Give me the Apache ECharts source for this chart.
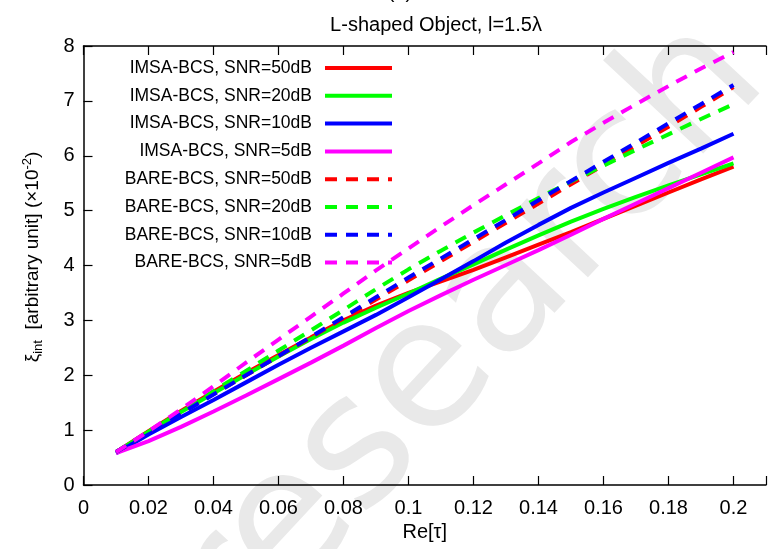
<!DOCTYPE html>
<html>
<head>
<meta charset="utf-8">
<script src="https://cdn.jsdelivr.net/npm/echarts@6/dist/echarts.min.js"></script>
<style>
  html,body{margin:0;padding:0;background:#fff}
  #chart{width:769px;height:549px}
</style>
</head>
<body>
<div id="chart"></div>
<script>
// ---------- data ----------
const tau = [0.01,0.02,0.03,0.04,0.05,0.06,0.07,0.08,0.09,0.10,0.11,0.12,0.13,0.14,0.15,0.16,0.17,0.18,0.19,0.20];

const imsa50 = [0.60,0.98,1.35,1.70,2.04,2.37,2.69,3.00,3.27,3.50,3.71,3.92,4.15,4.38,4.61,4.85,5.09,5.33,5.57,5.80];
const imsa20 = [0.60,0.97,1.33,1.67,2.01,2.34,2.66,2.96,3.23,3.49,3.76,4.02,4.29,4.55,4.80,5.03,5.25,5.46,5.66,5.86];
const imsa10 = [0.58,0.92,1.24,1.55,1.87,2.19,2.50,2.80,3.10,3.42,3.75,4.08,4.42,4.74,5.05,5.33,5.60,5.87,6.13,6.40];
const imsa5  = [0.58,0.80,1.06,1.34,1.63,1.93,2.23,2.54,2.86,3.17,3.46,3.74,4.01,4.28,4.56,4.85,5.13,5.41,5.69,5.97];
const bare50 = [0.60,0.96,1.31,1.66,2.00,2.35,2.69,3.04,3.38,3.73,4.08,4.43,4.78,5.13,5.48,5.83,6.18,6.53,6.89,7.25];
const bare20 = [0.60,0.97,1.34,1.71,2.08,2.45,2.82,3.19,3.57,3.93,4.27,4.60,4.92,5.23,5.53,5.82,6.11,6.39,6.67,6.94];
const bare10 = [0.60,0.95,1.30,1.65,2.00,2.35,2.70,3.06,3.42,3.78,4.13,4.48,4.83,5.19,5.54,5.89,6.24,6.59,6.94,7.29];
const bare5  = [0.60,0.98,1.38,1.80,2.23,2.65,3.07,3.49,3.91,4.31,4.71,5.10,5.48,5.86,6.25,6.60,6.94,7.27,7.59,7.89];

const names = ['IMSA-BCS, SNR=50dB','IMSA-BCS, SNR=20dB','IMSA-BCS, SNR=10dB','IMSA-BCS, SNR=5dB',
               'BARE-BCS, SNR=50dB','BARE-BCS, SNR=20dB','BARE-BCS, SNR=10dB','BARE-BCS, SNR=5dB'];
const values = [imsa50, imsa20, imsa10, imsa5, bare50, bare20, bare10, bare5];
const colors = ['#ff0000','#00ff00','#0000ff','#ff00ff','#ff0000','#00ff00','#0000ff','#ff00ff'];

// ---------- chart ----------
const FONT = 'Liberation Sans, Arial, sans-serif';
const chart = echarts.init(document.getElementById('chart'));

const series = values.map((v,i)=>({
  name: names[i],
  type: 'line',
  symbol: 'none',
  showSymbol: false,
  data: tau.map((t,k)=>[t, v[k]]),
  lineStyle: {color: colors[i], width: 4, type: i < 4 ? 'solid' : [12,9]},
  itemStyle: {color: colors[i]},
  z: 3
}));

// hide the label for the extra 0.21 edge
const xFmt = v => v > 0.2001 ? '' : String(parseFloat(v.toFixed(2)));

const tickStyle = {inside: true, length: 9, lineStyle: {color: '#000', width: 1.2}};
const lineBlack = {show: true, lineStyle: {color: '#000', width: 1.5}};

chart.setOption({
  animation: false,
  backgroundColor: '#fff',
  grid: {left: 83.5, right: -9, top: 46, bottom: 64},
  title: {
    text: 'L-shaped Object, l=1.5λ',
    left: 431, top: 10, textAlign: 'center',
    textStyle: {fontFamily: FONT, fontSize: 20, fontWeight: 'normal', color: '#000'}
  },
  legend: {
    orient: 'vertical',
    align: 'right',
    right: 370,
    top: 54,
    itemWidth: 67,
    itemHeight: 14,
    itemGap: 9.8,
    data: names,
    itemStyle: {opacity: 0},
    lineStyle: {width: 4},
    textStyle: {fontFamily: FONT, fontSize: 17.5, color: '#000', padding: [0,8,0,0]}
  },
  xAxis: [{
    type: 'value', min: 0, max: 0.21, interval: 0.02,
    axisLine: lineBlack,
    axisTick: tickStyle,
    axisLabel: {formatter: xFmt, color: '#000', fontFamily: FONT, fontSize: 20, margin: 13},
    splitLine: {show: false},
    name: 'Re[τ]', nameLocation: 'middle', nameGap: 35,
    nameTextStyle: {fontFamily: FONT, fontSize: 20, color: '#000'}
  },{
    type: 'value', position: 'top', min: 0, max: 0.21, interval: 0.02,
    axisLine: lineBlack,
    axisTick: tickStyle,
    axisLabel: {show: false},
    splitLine: {show: false}
  }],
  yAxis: [{
    type: 'value', min: 0, max: 8, interval: 1,
    axisLine: lineBlack,
    axisTick: tickStyle,
    axisLabel: {color: '#000', fontFamily: FONT, fontSize: 20, margin: 9},
    splitLine: {show: false}
  }],
  graphic: [{
    type: 'text', z: 0, silent: true,
    x: 470, y: 335, rotation: 47 * Math.PI / 180,
    style: {text: 'research', fontSize: 180, fontFamily: 'DejaVu Sans, sans-serif',
            fill: '#e9e9e9', align: 'center', verticalAlign: 'middle'}
  },{
    type: 'text', z: 10,
    x: 33, y: 257, rotation: Math.PI / 2,
    style: {
      text: '{a|ξ}{s|int}{a|  [arbitrary unit] (×10}{p|-2}{a|)}',
      align: 'center', verticalAlign: 'middle',
      rich: {
        a: {fontFamily: FONT, fontSize: 19, fill: '#000', lineHeight: 24},
        s: {fontFamily: FONT, fontSize: 13, fill: '#000', lineHeight: 24, padding: [11,0,0,0]},
        p: {fontFamily: FONT, fontSize: 13, fill: '#000', lineHeight: 24, padding: [0,0,11,0]}
      }
    }
  },{
    type: 'text', z: 10, x: 400, y: -18,
    style: {text: '(b)', fontFamily: FONT, fontSize: 20, fill: '#000', align: 'center'}
  }],
  series: series
});
</script>
</body>
</html>
